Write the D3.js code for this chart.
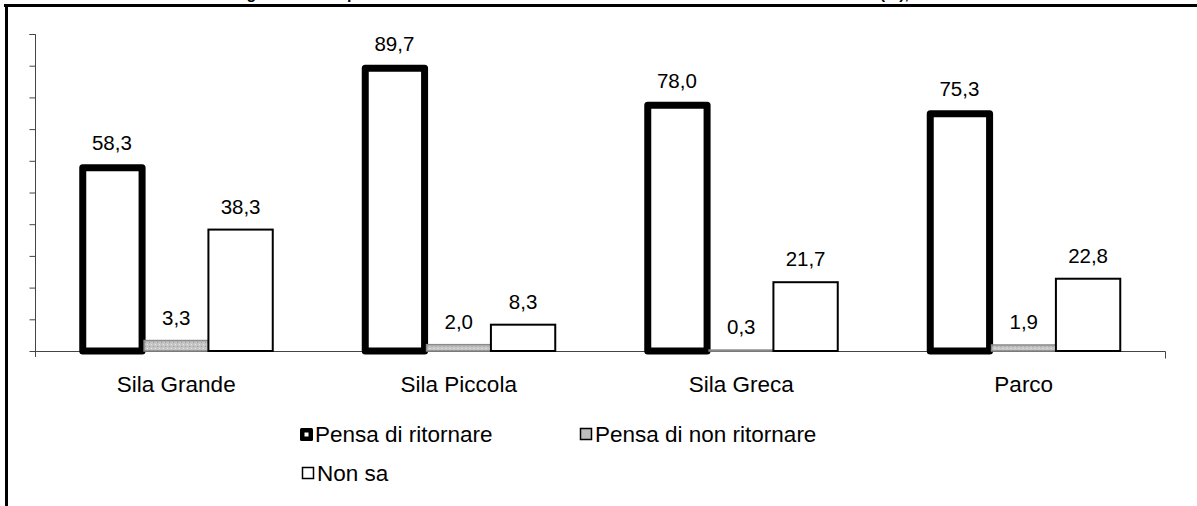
<!DOCTYPE html>
<html>
<head>
<meta charset="utf-8">
<script src="https://cdn.jsdelivr.net/npm/d3@7"></script>
<style>
  html, body { margin: 0; padding: 0; background: #fff; }
  svg { display: block; font-family: Arial, "Liberation Sans", sans-serif; }
</style>
</head>
<body>
<svg id="chart" width="1197" height="506"></svg>
<script>
const titleText = "Figura 3.4 - Risposte alla domanda sull'intenzione di ritornare dei visitatori del Parco (%), anno 2008";
const categories = ["Sila Grande", "Sila Piccola", "Sila Greca", "Parco"];
const seriesNames = ["Pensa di ritornare", "Pensa di non ritornare", "Non sa"];
const pensaRitornare = [58.3, 89.7, 78.0, 75.3];
const pensaNonRitornare = [3.3, 2.0, 0.3, 1.9];
const nonSa = [38.3, 8.3, 21.7, 22.8];
const yTicks = [0, 10, 20, 30, 40, 50, 60, 70, 80, 90, 100];

const seriesValues = [pensaRitornare, pensaNonRitornare, nonSa];
const fmt = v => v.toFixed(1).replace(".", ",");

const svg = d3.select("#chart");

const defs = svg.append("defs");
const pat = defs.append("pattern").attr("id", "dots").attr("width", 4).attr("height", 4)
  .attr("patternUnits", "userSpaceOnUse");
pat.append("rect").attr("width", 4).attr("height", 4).attr("fill", "#c4c4c4");
pat.append("rect").attr("width", 1).attr("height", 1).attr("fill", "#e8e8e8");
pat.append("rect").attr("x", 2).attr("y", 2).attr("width", 1).attr("height", 1).attr("fill", "#9a9a9a");

// title (cropped at top, as in the source image)
svg.append("text").attr("x", 612).attr("y", -1)
  .attr("text-anchor", "middle").attr("font-weight", "bold").attr("font-size", 16)
  .attr("fill", "#000").text(titleText);

// frame
svg.append("line").attr("x1", 4).attr("x2", 1197).attr("y1", 5.5).attr("y2", 5.5)
  .attr("stroke", "#000").attr("stroke-width", 3);
svg.append("line").attr("x1", 6.5).attr("x2", 6.5).attr("y1", 4).attr("y2", 506)
  .attr("stroke", "#000").attr("stroke-width", 3);

const plotLeft = 35, plotRight = 1165, plotTop = 34, plotBottom = 351;

const y = d3.scaleLinear().domain([0, 100]).range([plotBottom, plotTop]);
const x0 = d3.scaleBand().domain(categories).range([plotLeft, plotRight]).padding(0);
const groupW = 193;
const x1 = d3.scaleBand().domain(seriesNames)
  .range([(x0.bandwidth() - groupW) / 2, (x0.bandwidth() + groupW) / 2]).padding(0);

// y axis
const yAxis = d3.axisLeft(y).tickValues(yTicks).tickSize(6).tickFormat("");
const gy = svg.append("g").attr("transform", `translate(${plotLeft + 0.5},0)`).call(yAxis);
gy.select(".domain").attr("stroke", "#444").attr("d", `M-6,${plotTop + 0.5}H0V${plotBottom + 6}`);
gy.selectAll(".tick line").attr("stroke", "#444");

// x axis
const gx = svg.append("g").attr("transform", `translate(0,${plotBottom + 0.5})`);
gx.append("path").attr("d", `M${plotLeft},0H${plotRight + 0.5}V7`)
  .attr("fill", "none").attr("stroke", "#444");

const styles = [
  { fill: "#fff", stroke: "#000", sw: 7 },
  { fill: "url(#dots)", stroke: "#8a8a8a", sw: 1.5 },
  { fill: "#fff", stroke: "#000", sw: 2 }
];

const groups = svg.append("g").selectAll("g").data(categories).join("g")
  .attr("transform", d => `translate(${x0(d)},0)`);

seriesNames.forEach((s, si) => {
  const st = styles[si];
  groups.append("rect")
    .attr("x", () => x1(s) + (si === 0 ? 3 : 0))
    .attr("width", x1.bandwidth() - (si === 0 ? 5 : 0))
    .attr("y", (d, i) => y(seriesValues[si][i]) + (si === 0 ? 1.5 : 0))
    .attr("height", (d, i) => plotBottom - y(seriesValues[si][i]) - (si === 0 ? 1.5 : 0))
    .attr("fill", st.fill).attr("stroke", st.stroke).attr("stroke-width", st.sw)
    .attr("stroke-linejoin", si === 0 ? "round" : "miter");
  groups.append("text")
    .attr("x", x1(s) + x1.bandwidth() / 2)
    .attr("y", (d, i) => y(seriesValues[si][i]) - 16)
    .attr("text-anchor", "middle").attr("font-size", 20.5).attr("fill", "#000")
    .text((d, i) => fmt(seriesValues[si][i]));
});

// category labels
svg.append("g").selectAll("text").data(categories).join("text")
  .attr("x", d => x0(d) + x0.bandwidth() / 2)
  .attr("y", 392)
  .attr("text-anchor", "middle").attr("font-size", 22.5).attr("fill", "#000")
  .text(d => d);

// legend
const legendPos = [
  { x: 300, y: 428 },
  { x: 580, y: 428 },
  { x: 302, y: 467 }
];
const lg = svg.append("g");
seriesNames.forEach((s, si) => {
  const p = legendPos[si];
  if (si === 0) {
    lg.append("rect").attr("x", p.x).attr("y", p.y).attr("width", 13).attr("height", 13)
      .attr("rx", 1.5).attr("fill", "#000");
    lg.append("rect").attr("x", p.x + 4.5).attr("y", p.y + 4.5).attr("width", 4).attr("height", 4)
      .attr("fill", "#fff");
  } else if (si === 1) {
    lg.append("rect").attr("x", p.x + 0.5).attr("y", p.y + 0.5).attr("width", 11).attr("height", 11)
      .attr("fill", "#bdbdbd").attr("stroke", "#000").attr("stroke-width", 1.5);
  } else {
    lg.append("rect").attr("x", p.x + 0.5).attr("y", p.y + 0.5).attr("width", 11).attr("height", 11)
      .attr("fill", "#fff").attr("stroke", "#000").attr("stroke-width", 1.5);
  }
  lg.append("text").attr("x", p.x + 15).attr("y", p.y + 14)
    .attr("font-size", 22.5).attr("fill", "#000").text(s);
});
</script>
</body>
</html>
